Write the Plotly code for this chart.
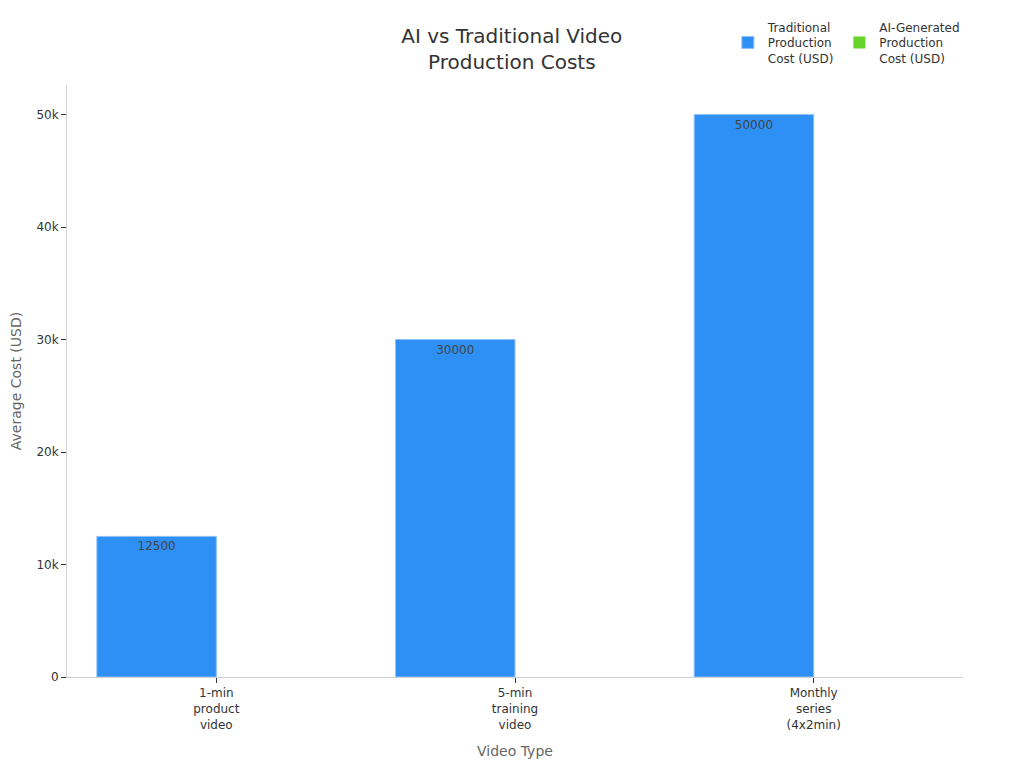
import plotly.graph_objects as go

categories = ["1-min<br>product<br>video", "5-min<br>training<br>video", "Monthly<br>series<br>(4x2min)"]
traditional_cost = [12500, 30000, 50000]
ai_cost = [0, 0, 0]  # too small to see at this scale

fig = go.Figure()

fig.add_trace(go.Bar(
    x=categories,
    y=traditional_cost,
    name="Traditional<br>Production<br>Cost (USD)",
    marker=dict(color="#2E90F5", line=dict(color="#8CC0F8", width=1)),
    text=traditional_cost,
    textposition="inside",
    insidetextanchor="end",
    textfont=dict(color="#444444", size=12),
))

fig.add_trace(go.Bar(
    x=categories,
    y=ai_cost,
    name="AI-Generated<br>Production<br>Cost (USD)",
    marker=dict(color="#66D42A", line=dict(width=0)),
    text=ai_cost,
    textposition="none",
))

fig.update_layout(
    width=1024,
    height=768,
    font=dict(family="DejaVu Sans", size=12, color="#333333"),
    title=dict(text="AI vs Traditional Video<br>Production Costs", x=0.492, xref="container",
               xanchor="center", y=0.954, yanchor="middle", font=dict(size=20, color="#333333")),
    barmode="group",
    bargap=0.2,
    bargroupgap=0,
    plot_bgcolor="white",
    paper_bgcolor="white",
    margin=dict(l=59, r=69, t=77, b=99, autoexpand=False),
    legend=dict(orientation="h", x=0.703, y=0.955, xref="container", yref="container",
                xanchor="left", yanchor="middle", font=dict(size=12, color="#333333")),
    xaxis=dict(title=dict(text="Video Type", font=dict(size=14, color="#666666")),
               showline=True, linecolor="#d0d0d0", ticks="outside", tickcolor="#333333", ticklen=5,
               automargin=False),
    yaxis=dict(title=dict(text="Average Cost (USD)", font=dict(size=14, color="#666666")),
               showline=True, linecolor="#d0d0d0", showgrid=False, zeroline=False,
               ticks="outside", tickcolor="#333333", ticklen=5, tickformat="~s", automargin=False),
)

fig.write_html("out.html")
